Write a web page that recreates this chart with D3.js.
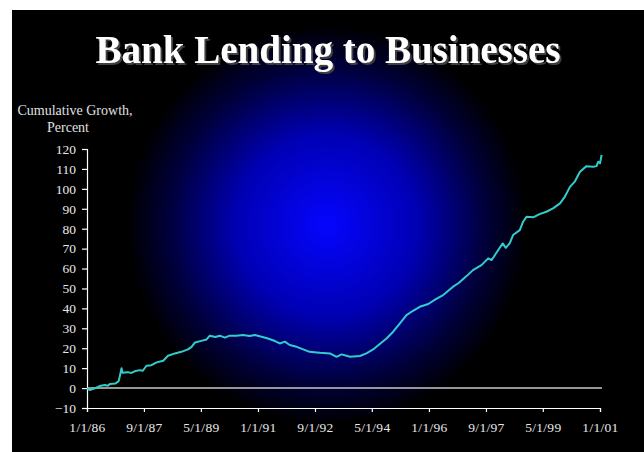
<!DOCTYPE html>
<html>
<head>
<meta charset="utf-8">
<script src="https://cdn.jsdelivr.net/npm/d3@7"></script>
<style>
  body { margin: 0; background: #fff; }
  svg { display: block; }
</style>
</head>
<body>
<script>
// readings, cumulative growth in percent since 1/1/86
var dates = [
  "1986-01-01", "1986-02-01", "1986-04-01", "1986-05-15", "1986-07-10", "1986-08-10", "1986-09-01",
  "1986-11-01", "1986-12-05", "1986-12-20", "1987-01-05", "1987-01-15", "1987-03-12", "1987-04-20",
  "1987-05-25", "1987-07-18", "1987-08-20", "1987-09-28", "1987-11-20", "1988-01-15", "1988-03-25",
  "1988-05-15", "1988-07-28", "1988-10-05", "1988-12-15", "1989-01-22", "1989-02-28",
  "1989-05-05", "1989-07-01", "1989-08-05", "1989-10-01", "1989-11-20", "1990-01-12", "1990-03-05",
  "1990-05-15", "1990-07-25", "1990-10-05", "1990-11-28", "1991-02-08", "1991-04-18",
  "1991-07-01", "1991-08-22", "1991-10-15", "1991-12-06", "1992-02-18", "1992-04-28",
  "1992-07-06", "1992-09-18", "1992-10-24", "1993-02-08", "1993-04-18", "1993-06-12",
  "1993-09-10", "1993-12-25", "1994-03-04", "1994-05-15", "1994-07-25", "1994-10-05",
  "1994-12-15", "1995-02-25", "1995-05-06", "1995-07-15", "1995-09-25", "1995-12-25",
  "1996-03-10", "1996-06-01", "1996-09-15", "1996-11-10", "1997-02-06", "1997-04-15",
  "1997-07-15", "1997-09-25", "1997-11-01", "1998-01-10", "1998-02-27", "1998-04-01",
  "1998-05-12", "1998-06-18", "1998-08-28", "1998-10-03", "1998-11-08", "1999-01-18",
  "1999-03-28", "1999-06-08", "1999-08-18", "1999-11-01", "1999-12-22", "2000-02-15",
  "2000-04-06", "2000-06-01", "2000-08-10", "2000-10-20", "2000-11-25", "2000-12-12",
  "2001-01-01", "2001-01-18"
];
var growth = [
  0, -1, 0, 1, 1.5, 1.2, 2,
  2.3, 3.5, 6.5, 10, 7.7, 8, 7.6,
  8.4, 9, 8.7, 11.2, 11.5, 12.9, 13.7,
  16.2, 17.4, 18.2, 19.4, 20.7, 22.9,
  23.7, 24.4, 26.3, 25.6, 26.3, 25.3, 26.3,
  26.3, 26.6, 26.1, 26.6, 25.8, 24.9,
  23.6, 22.4, 23.3, 21.6, 20.7, 19.4,
  18.2, 17.9, 17.7, 17.4, 15.7, 16.9,
  15.7, 16.1, 17.4, 19.4, 22.1, 24.9,
  28.3, 32.5, 36.6, 38.8, 40.8, 42.2,
  44.5, 46.7, 50.9, 52.6, 56.2, 59.2,
  61.7, 65.1, 64.3, 69.3, 72.6, 70.4,
  72.6, 76.8, 79.3, 83.5, 86, 85.7,
  87.3, 88.5, 90.2, 92.7, 96, 101,
  103.6, 108.6, 111.4, 111.1, 111.4, 113.6,
  112.8, 117
];
var xTickLabels = ["1/1/86", "9/1/87", "5/1/89", "1/1/91", "9/1/92", "5/1/94", "1/1/96", "9/1/97", "5/1/99", "1/1/01"];
var yTicks = [-10, 0, 10, 20, 30, 40, 50, 60, 70, 80, 90, 100, 110, 120];

const width = 644, height = 452;
const serif = "'Liberation Serif', 'Times New Roman', serif";

const svg = d3.select("body")
  .append("svg")
  .attr("width", width)
  .attr("height", height);

var defs = svg.append("defs");

// blue glow behind the plot
var glow = defs.append("radialGradient")
  .attr("id", "glow")
  .attr("gradientUnits", "userSpaceOnUse")
  .attr("cx", 327).attr("cy", 225).attr("r", 200);
glow.append("stop").attr("offset", "0%").attr("stop-color", "#0505ff");
glow.append("stop").attr("offset", "45%").attr("stop-color", "#0000b4");
glow.append("stop").attr("offset", "80%").attr("stop-color", "#000038");
glow.append("stop").attr("offset", "100%").attr("stop-color", "#000000");

var shadow = defs.append("filter")
  .attr("id", "shadow")
  .attr("x", "-5%").attr("y", "-20%")
  .attr("width", "110%").attr("height", "140%");
shadow.append("feDropShadow")
  .attr("dx", 2).attr("dy", 2)
  .attr("stdDeviation", 0.5)
  .attr("flood-color", "#404040");

svg.append("rect")
  .attr("x", 12).attr("y", 10)
  .attr("width", width - 12).attr("height", height - 10)
  .attr("fill", "#000");
svg.append("rect")
  .attr("x", 12).attr("y", 10)
  .attr("width", width - 12).attr("height", height - 10)
  .attr("fill", "url(#glow)");

svg.append("text")
  .attr("x", 328).attr("y", 63)
  .attr("text-anchor", "middle")
  .attr("font-family", serif)
  .attr("font-weight", "bold")
  .attr("font-size", 39)
  .attr("fill", "#fff")
  .attr("filter", "url(#shadow)")
  .text("Bank Lending to Businesses");

svg.append("text")
  .attr("x", 75).attr("y", 115)
  .attr("text-anchor", "middle")
  .attr("font-family", serif)
  .attr("font-size", 14)
  .attr("fill", "#e0e0e0")
  .text("Cumulative Growth,");
svg.append("text")
  .attr("x", 68).attr("y", 132)
  .attr("text-anchor", "middle")
  .attr("font-family", serif)
  .attr("font-size", 14)
  .attr("fill", "#e0e0e0")
  .text("Percent");

var parseDate = d3.timeParse("%Y-%m-%d");
var parseTick = d3.timeParse("%m/%d/%y");
var series = dates.map((d, i) => ({ date: parseDate(d), value: growth[i] }));
var tickDates = xTickLabels.map(parseTick);

var x = d3.scaleTime()
  .domain([tickDates[0], tickDates[tickDates.length - 1]])
  .range([87, 600]);
var y = d3.scaleLinear()
  .domain([-10, 120])
  .range([408, 149]);

// zero line
svg.append("line")
  .attr("x1", x.range()[0]).attr("x2", 602)
  .attr("y1", y(0)).attr("y2", y(0))
  .attr("stroke", "#c8c8c8")
  .attr("stroke-width", 1.5);

var yAxis = svg.append("g")
  .attr("transform", "translate(87,0)")
  .call(d3.axisLeft(y).tickValues(yTicks).tickSize(5).tickPadding(6).tickFormat(d3.format("d")));

var xAxis = svg.append("g")
  .attr("transform", "translate(0,408)")
  .call(d3.axisBottom(x).tickValues(tickDates).tickSize(4).tickPadding(10)
    .tickFormat((d, i) => xTickLabels[i]));

[yAxis, xAxis].forEach(function (ax) {
  ax.select(".domain").attr("stroke", "#fff").attr("stroke-width", 1.2);
  ax.selectAll(".tick line").attr("stroke", "#fff").attr("stroke-width", 1.2);
  ax.selectAll(".tick text")
    .attr("fill", "#e8e8e8")
    .attr("font-family", serif)
    .attr("font-size", 13.5);
});
xAxis.selectAll(".tick text").attr("letter-spacing", 0.3);

var line = d3.line()
  .x(d => x(d.date))
  .y(d => y(d.value));

svg.append("path")
  .datum(series)
  .attr("d", line)
  .attr("fill", "none")
  .attr("stroke", "#33cccc")
  .attr("stroke-width", 2)
  .attr("stroke-linejoin", "round");
</script>
</body>
</html>
